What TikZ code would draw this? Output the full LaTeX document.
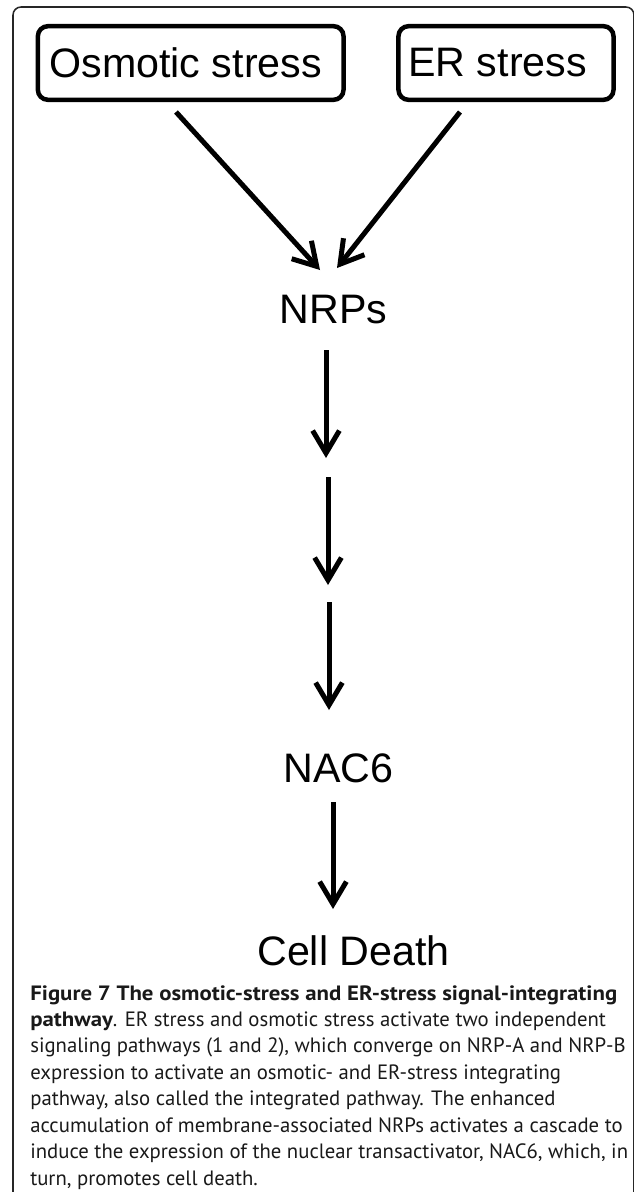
\documentclass[tikz,border=0pt]{standalone}
\usepackage{fontspec}
\usepackage{xcolor}
\usetikzlibrary{arrows.meta}
\newfontfamily\labelfont{Liberation Sans}
\newfontfamily\capfont[BoldFeatures={FakeStretch=1.1}]{PT Sans}

\begin{document}
\begin{tikzpicture}[x=0.025cm,y=-0.025cm,
	frame/.style={draw=black!85,line width=1.1pt,rounded corners=0.2cm},
	stressbox/.style={draw,line width=3.2pt,rounded corners=0.25cm,minimum height=1.84cm,inner sep=0pt,font=\labelfont\fontsize{29.3}{32}\selectfont},
	label/.style={anchor=base,inner sep=0pt,font=\labelfont\fontsize{29.3}{32}\selectfont},
	arr/.style={line width=3.56pt,-{Straight Barb[length=16pt,width=19pt]}}]
	\useasboundingbox (0,0) rectangle (633,1192);
	\draw[frame] (13,1210) -- (13,7) -- (634,7) -- (634,1210);
	
	% stresses
	\node[stressbox,minimum width=7.64cm] (osm) at (190.7,63) {\kern-0.25cm Osmotic stress};
	\node[stressbox,minimum width=5.375cm] (er) at (506,63) {\kern-0.42cm ER stress};
	
	% pathway
	\node[label] (nrps) at (333.5,323) {NRPs};
	\node[label] (nac) at (338.5,782) {NAC6};
	\node[label] (death) at (353.5,965) {Cell Death};
	
	\coordinate (osmout) at (176,112);
	\coordinate (erout) at (460,112);
	\coordinate (nrpsinL) at (320,270);
	\coordinate (nrpsinR) at (337,268);
	\draw[arr] (osmout) -- (nrpsinL);
	\draw[arr] (erout) -- (nrpsinR);
	
	\coordinate (c1) at (326,350);
	\coordinate (c2) at (326,458);
	\coordinate (c3) at (328,477);
	\coordinate (c4) at (328,585);
	\coordinate (c5) at (329,602);
	\coordinate (c6) at (329,710);
	\coordinate (c7) at (333,802);
	\coordinate (c8) at (333,909);
	\draw[arr] (c1) -- (c2);
	\draw[arr] (c3) -- (c4);
	\draw[arr] (c5) -- (c6);
	\draw[arr] (c7) -- (c8);
	
	% caption
	\node[anchor=north west,inner sep=0pt,align=left,text=black!90,font=\capfont\fontsize{14.75}{18.8}\selectfont] (caption) at (30,985)
	{\textbf{Figure 7 The osmotic-stress and ER-stress signal-integrating}\\
	\textbf{pathway}. ER stress and osmotic stress activate two independent\\
	signaling pathways (1 and 2), which converge on NRP-A and NRP-B\\
	expression to activate an osmotic- and ER-stress integrating\\
	pathway, also called the integrated pathway. The enhanced\\
	accumulation of membrane-associated NRPs activates a cascade to\\
	induce the expression of the nuclear transactivator, NAC6, which, in\\
	turn, promotes cell death.};
\end{tikzpicture}
\end{document}
